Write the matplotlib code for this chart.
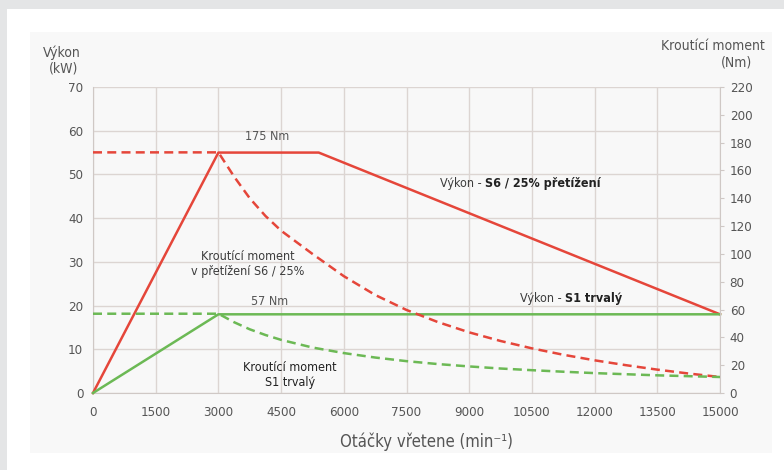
import matplotlib
matplotlib.use("Agg")
import matplotlib.pyplot as plt
from matplotlib.patches import Rectangle

# ---- data ----
rpm_s6_power = [0, 3000, 5400, 15000]
power_s6 = [0, 55, 55, 18]
rpm_s1_power = [0, 3000, 15000]
power_s1 = [0, 18, 18]

torque_rpm = [0, 3000, 3375, 3750, 4125, 4500, 5250, 6000, 6750, 7500, 8250, 9000,
              9750, 10500, 11250, 12000, 12750, 13500, 14250, 15000]
torque_s6 = [173, 173, 155.6, 140, 127.3, 116.7, 100, 84, 70.5, 59.7, 51, 43.6,
             37.4, 32.1, 27.5, 23.5, 20, 16.8, 14, 11.5]
torque_s1 = [57, 57, 50.9, 45.8, 41.7, 38.2, 32.7, 28.7, 25.5, 22.9, 20.8, 19.1,
             17.6, 16.4, 15.3, 14.3, 13.5, 12.7, 12.1, 11.5]

x_ticks = [0, 1500, 3000, 4500, 6000, 7500, 9000, 10500, 12000, 13500, 15000]
kw_ticks = [0, 10, 20, 30, 40, 50, 60, 70]
nm_ticks = [0, 20, 40, 60, 80, 100, 120, 140, 160, 180, 200, 220]

RED = "#e5463a"
GREEN = "#6cb955"
TXT = "#3c3c3c"
TICK = "#555555"
GRID = "#dcd5d2"

plt.rcParams['font.family'] = ['DejaVu Sans']
plt.rcParams['font.stretch'] = 'condensed'

W, H = 784, 470
fig = plt.figure(figsize=(W / 100, H / 100), dpi=100, facecolor="white")

# background: gray strips and light inner panel
fig.patches.append(Rectangle((0, 1 - 9 / H), 1, 9 / H, transform=fig.transFigure,
                             facecolor="#e4e5e6", edgecolor="none", zorder=-5))
fig.patches.append(Rectangle((0, 0), 7 / W, 1, transform=fig.transFigure,
                             facecolor="#e4e5e6", edgecolor="none", zorder=-5))
fig.patches.append(Rectangle((30 / W, 1 - 453 / H), (772 - 30) / W, (453 - 32) / H,
                             transform=fig.transFigure, facecolor="#f8f8f8",
                             edgecolor="none", zorder=-5))

left, right, top, bottom = 93, 720, 87, 393
ax = fig.add_axes([left / W, 1 - bottom / H, (right - left) / W, (bottom - top) / H])
ax.set_facecolor("none")
ax2 = ax.twinx()
ax2.set_facecolor("none")

ax.set_xlim(0, 15000)
ax.set_ylim(0, 70)
ax2.set_ylim(0, 220)

ax.set_xticks(x_ticks)
ax.set_xticklabels([str(t) for t in x_ticks])
ax.set_yticks(kw_ticks)
ax2.set_yticks(nm_ticks)

ax.grid(True, color=GRID, linewidth=1.0)
ax.set_axisbelow(True)

for a in (ax, ax2):
    for s in a.spines.values():
        s.set_visible(False)
ax.spines['left'].set_visible(True)
ax.spines['left'].set_color("#cfc8c5")
ax.spines['bottom'].set_visible(True)
ax.spines['bottom'].set_color("#cfc8c5")
ax2.spines['right'].set_visible(True)
ax2.spines['right'].set_color("#cfc8c5")

ax.tick_params(axis='both', length=0, labelsize=9.5, labelcolor=TICK)
ax.tick_params(axis='y', pad=7)
ax.tick_params(axis='x', pad=9)
ax2.tick_params(axis='y', length=3, color="#cfc8c5", labelsize=9.5,
                labelcolor=TICK, pad=4)

# lines
DASH = (0, (3.6, 2.1))
ax.plot(rpm_s6_power, power_s6, color=RED, lw=1.8, zorder=3, clip_on=False)
ax.plot(rpm_s1_power, power_s1, color=GREEN, lw=1.8, zorder=3, clip_on=False)
ax2.plot(torque_rpm, torque_s6, color=RED, lw=1.8, ls=DASH, zorder=3)
ax2.plot(torque_rpm, torque_s1, color=GREEN, lw=1.8, ls=DASH, zorder=3)

# annotations
fs = 9
ax.text(4163, 58.6, "175 Nm", ha='center', va='center', fontsize=fs, color=TICK)
ax.text(4234, 21.0, "57 Nm", ha='center', va='center', fontsize=fs, color=TICK)

t1 = ax.text(8300, 48.0, "Výkon - ", ha='left', va='center', fontsize=fs, color=TXT)
ax.annotate("S6 / 25% přetížení", xy=(1, 0.5), xycoords=t1, ha='left', va='center',
            fontsize=fs, color="#222222", fontweight='bold')
t2 = ax.text(10215, 21.7, "Výkon - ", ha='left', va='center', fontsize=fs, color=TXT)
ax.annotate("S1 trvalý", xy=(1, 0.5), xycoords=t2, ha='left', va='center',
            fontsize=fs, color="#222222", fontweight='bold')

ax.text(3708, 29.5, "Kroutící moment\nv přetížení S6 / 25%", ha='center', va='center',
        fontsize=fs, color=TXT, linespacing=1.2)
ax.text(4713, 4.2, "Kroutící moment\nS1 trvalý", ha='center', va='center',
        fontsize=fs, color="#222222", linespacing=1.2)

# axis titles
fig.text(62 / W, 1 - 53 / H, "Výkon", ha='center', va='center', fontsize=10, color=TICK)
fig.text(64 / W, 1 - 69 / H, "(kW)", ha='center', va='center', fontsize=10, color=TICK)
fig.text(765 / W, 1 - 46 / H, "Kroutící moment", ha='right', va='center', fontsize=10, color=TICK)
fig.text(736 / W, 1 - 63 / H, "(Nm)", ha='center', va='center', fontsize=10, color=TICK)
fig.text(426 / W, 1 - 442 / H, "Otáčky vřetene (min⁻¹)", ha='center', va='center',
         fontsize=12, color=TICK)

fig.savefig("out.png", dpi=100, facecolor=fig.get_facecolor())
